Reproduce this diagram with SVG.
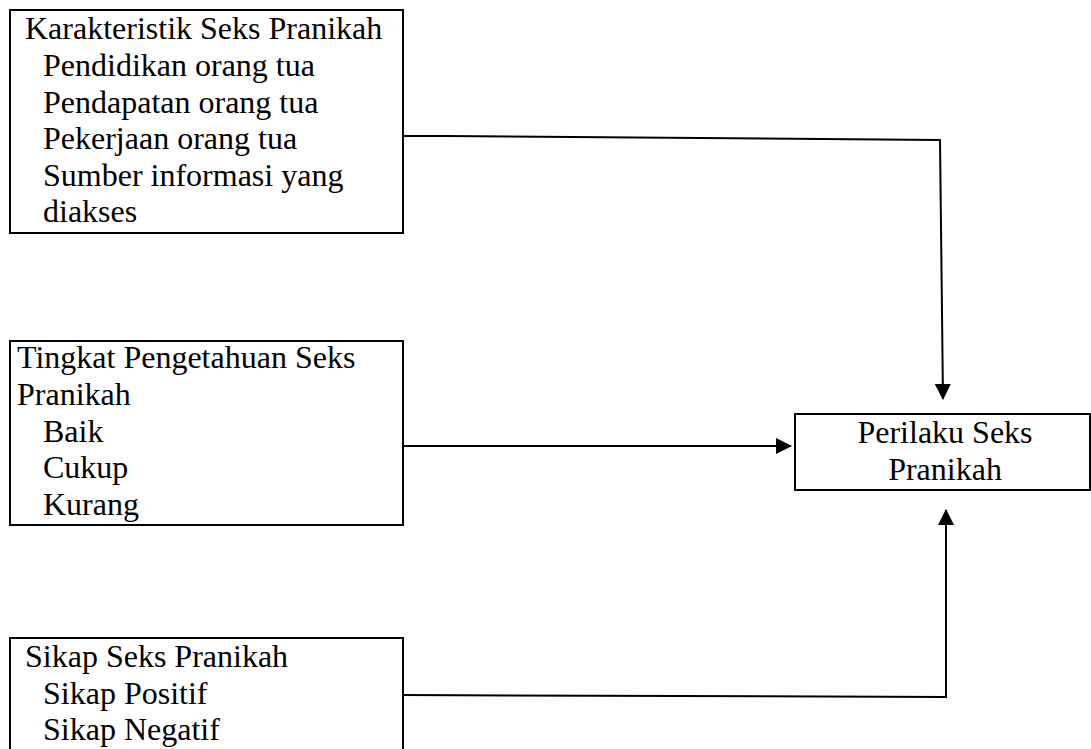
<svg xmlns="http://www.w3.org/2000/svg" width="1091" height="749" viewBox="0 0 1091 749">
<style>
.box{fill:#fff;stroke:#000;stroke-width:2}
.t{font-family:"Liberation Serif","Times New Roman",serif;font-size:32px;fill:#000}
.c{text-anchor:middle}
.conn{fill:none;stroke:#000;stroke-width:2}
</style>
<defs>
<marker id="arr" markerUnits="userSpaceOnUse" markerWidth="16" markerHeight="16" viewBox="0 0 16 16" refX="15" refY="8" orient="auto">
<path d="M0,0 L16,8 L0,16 z" fill="#000"/>
</marker>
</defs>
<rect width="1091" height="749" fill="#fff"/>
<g id="connectors">
<path class="conn" d="M398,136 L445,136 L940,140 L943,399" marker-end="url(#arr)"/>
<path class="conn" d="M399,446 L791,446" marker-end="url(#arr)"/>
<path class="conn" d="M403,695 L946,697 L946,510" marker-end="url(#arr)"/>
</g>
<g id="node-karakteristik">
<rect class="box" x="10" y="10" width="393" height="223"/>
<text class="t" x="25" y="39">Karakteristik Seks Pranikah</text>
<text class="t" x="43" y="75.5">Pendidikan orang tua</text>
<text class="t" x="43" y="112.5">Pendapatan orang tua</text>
<text class="t" x="43" y="149">Pekerjaan orang tua</text>
<text class="t" x="43" y="185.5">Sumber informasi yang</text>
<text class="t" x="43" y="222">diakses</text>
</g>
<g id="node-pengetahuan">
<rect class="box" x="10" y="341" width="393" height="184"/>
<text class="t" x="17" y="368">Tingkat Pengetahuan Seks</text>
<text class="t" x="17" y="405">Pranikah</text>
<text class="t" x="43" y="442">Baik</text>
<text class="t" x="43" y="478">Cukup</text>
<text class="t" x="43" y="515">Kurang</text>
</g>
<g id="node-sikap">
<rect class="box" x="10" y="638" width="393" height="130"/>
<text class="t" x="25" y="667">Sikap Seks Pranikah</text>
<text class="t" x="43" y="704">Sikap Positif</text>
<text class="t" x="43" y="740">Sikap Negatif</text>
</g>
<g id="node-perilaku">
<rect class="box" x="795" y="414" width="295" height="76"/>
<text class="t c" x="945" y="443">Perilaku Seks</text>
<text class="t c" x="945" y="480">Pranikah</text>
</g>
</svg>
